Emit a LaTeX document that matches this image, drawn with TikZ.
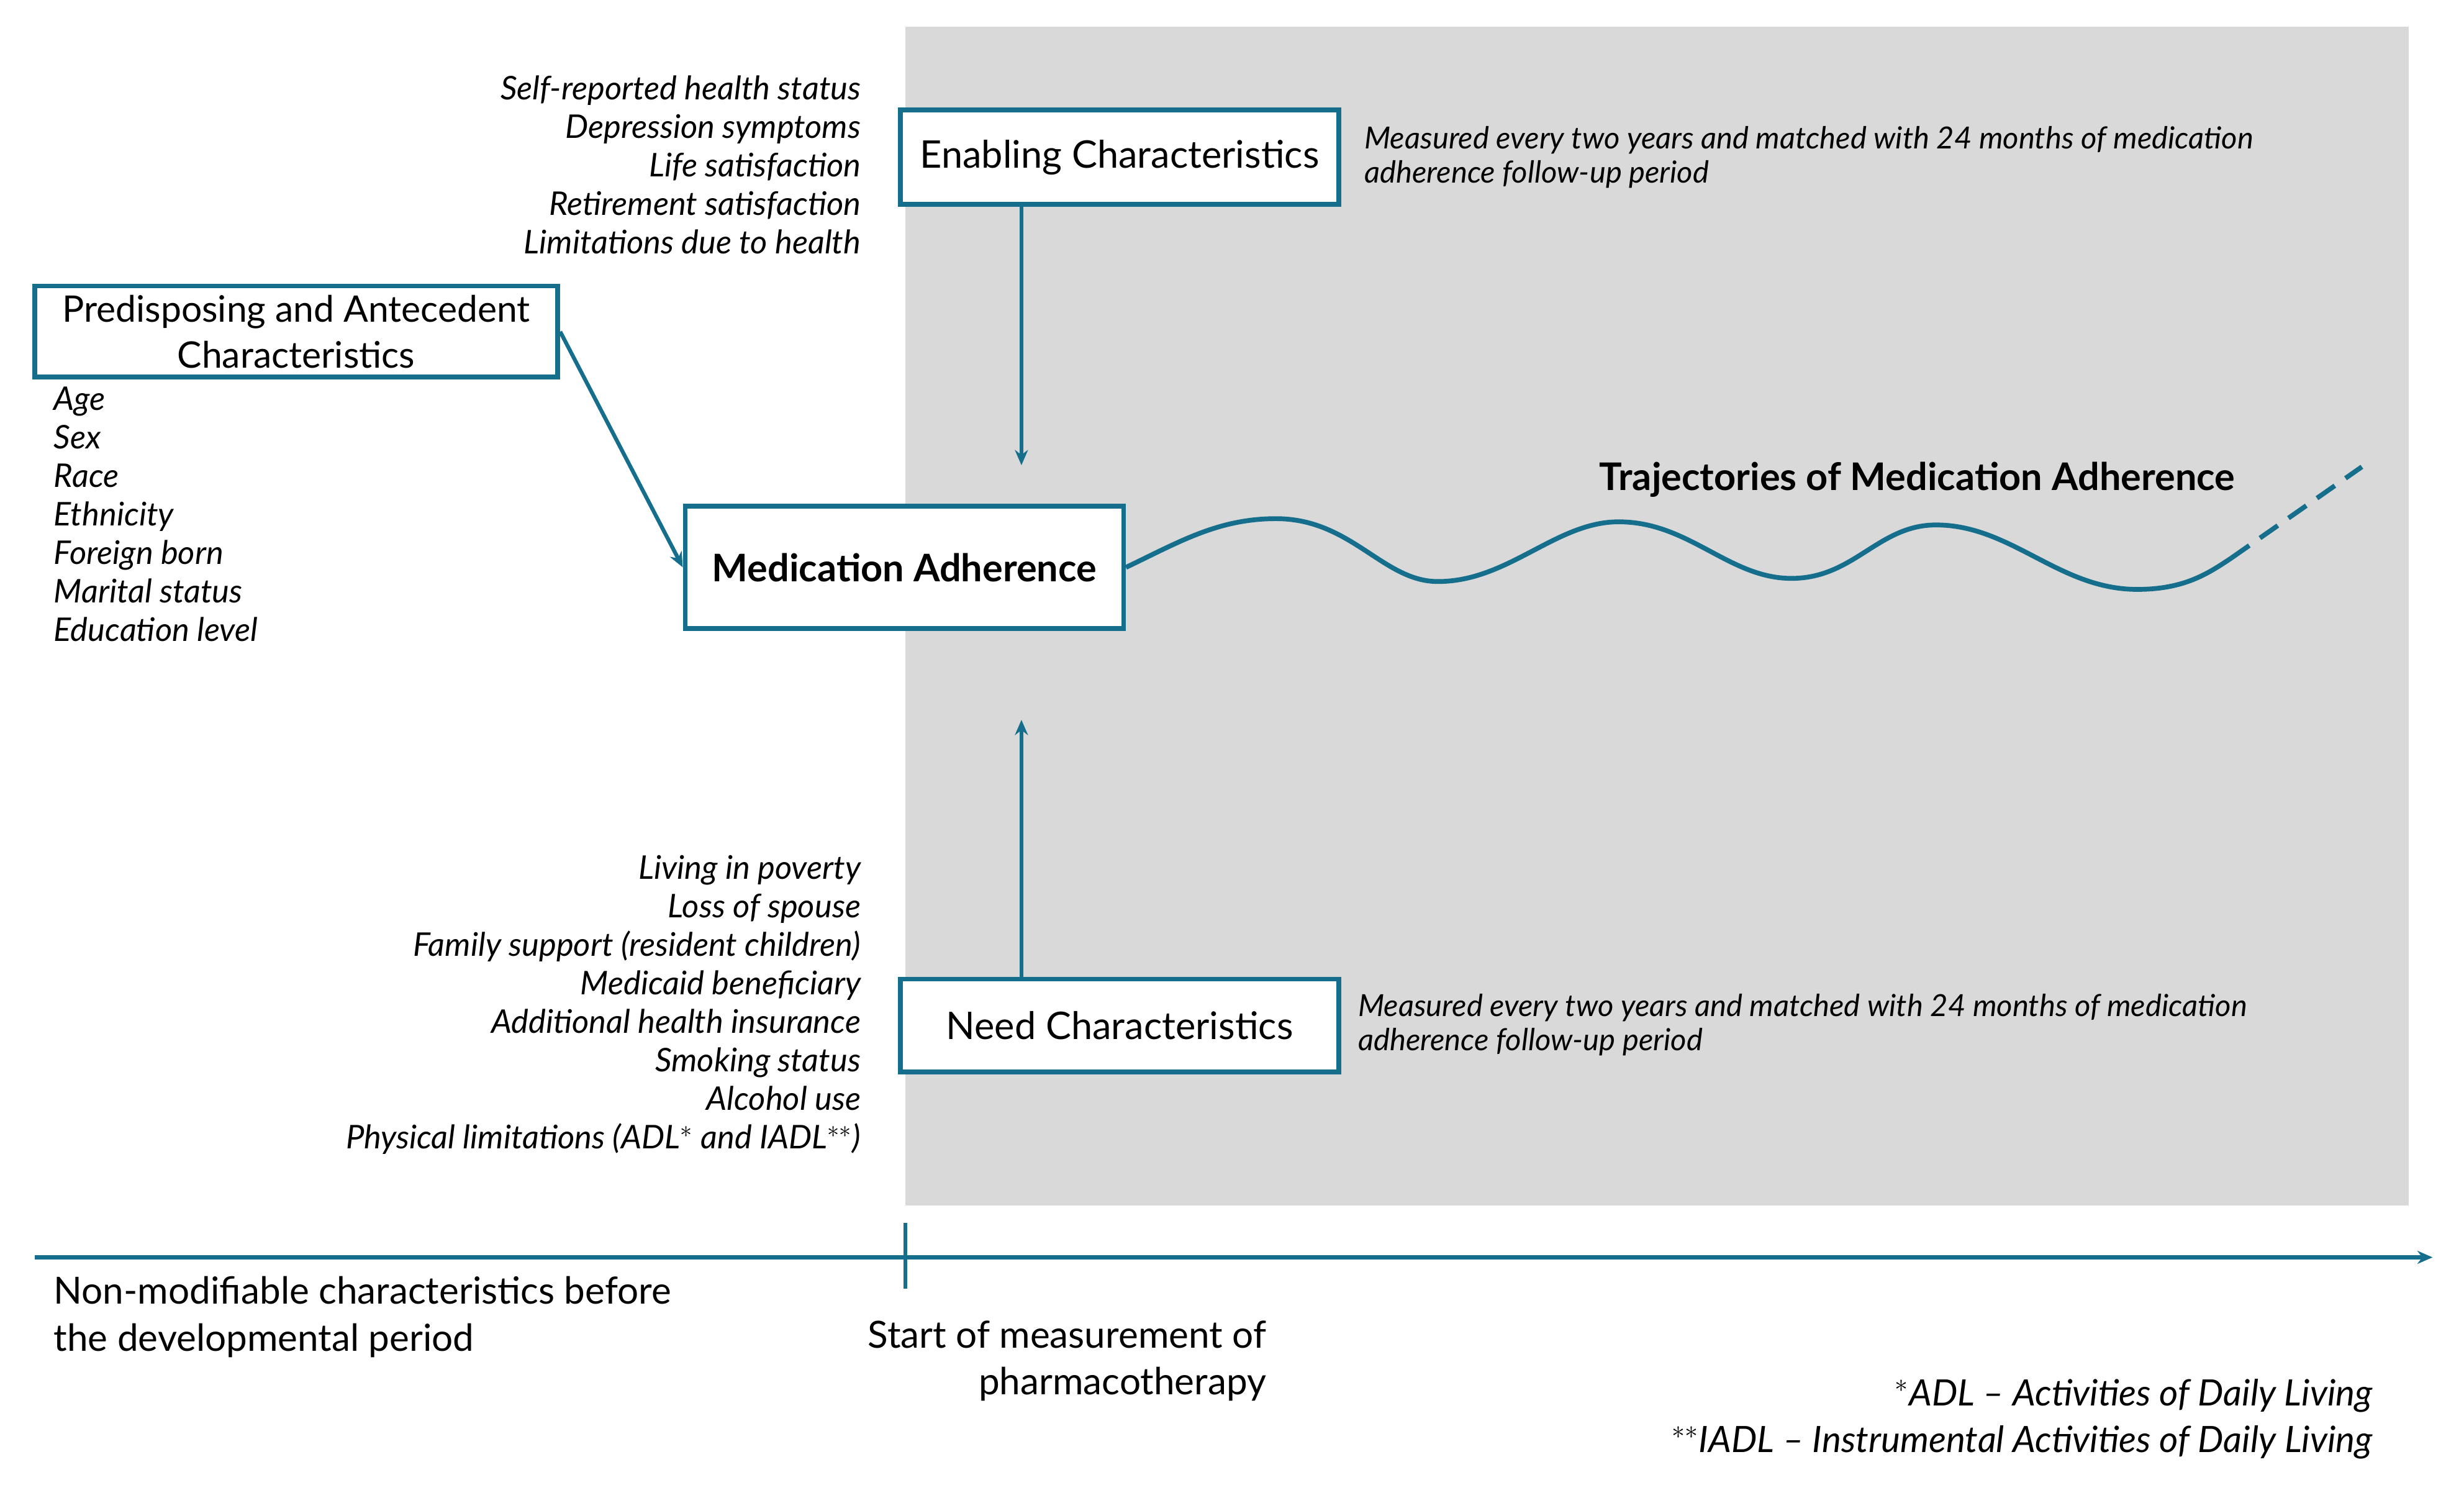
\documentclass[tikz,border=0pt]{standalone}
\usepackage{fontspec}
\setmainfont{Lato}
\usetikzlibrary{arrows.meta}
\definecolor{teal1}{RGB}{20,110,140}
\definecolor{gbg}{RGB}{217,217,217}
\begin{document}
\begin{tikzpicture}[x=0.0254cm,y=-0.0254cm,
 box/.style={draw=teal1,line width=2.2pt,fill=white,inner sep=0pt,font=\fontsize{17.5}{21.5}\selectfont,align=center},
 lst/.style={font=\fontsize{15}{17.7}\selectfont\itshape,inner sep=0pt},
 note/.style={font=\fontsize{14}{15.8}\selectfont\itshape,inner sep=0pt,align=left,anchor=west},
 arr/.style={teal1,line width=1.8pt,-{Stealth[length=7pt,width=6pt]}},
 plain/.style={font=\fontsize{17.2}{21.6}\selectfont,inner sep=0pt}]
\useasboundingbox (0,0) rectangle (1568,953);
\fill[gbg] (576,17) rectangle (1533,767);
\node[box,minimum width=7.087cm,minimum height=1.524cm] (en) at (712.5,100) {Enabling Characteristics};
\node[box,minimum width=8.458cm,minimum height=1.473cm,font=\fontsize{16.8}{21}\selectfont] (pre) at (188.5,211) {Predisposing and Antecedent\\Characteristics};
\node[box,minimum width=7.087cm,minimum height=1.981cm,font=\fontsize{17.5}{21.5}\selectfont\bfseries] (ma) at (575.5,361) {Medication Adherence};
\node[box,minimum width=7.087cm,minimum height=1.499cm] (need) at (712.5,652.5) {Need Characteristics};
\coordinate (ea) at (650,296);
\coordinate (na) at (650,458);
\draw[arr] (en.south -| ea) -- (ea);
\draw[arr] (need.north -| na) -- (na);
\draw[arr] (pre.east) -- (ma.west);
\draw[teal1,line width=2.2pt] (ma.east) .. controls (750,345) and (775,330) .. (812,330)
 .. controls (860,330) and (880,370) .. (915,370)
 .. controls (960,370) and (990,332) .. (1030,332)
 .. controls (1075,332) and (1100,368) .. (1140,368)
 .. controls (1180,368) and (1195,334) .. (1232,334)
 .. controls (1280,334) and (1310,375) .. (1360,375)
 .. controls (1390,375) and (1405,365) .. (1420,355) coordinate (w1);
\coordinate (w2) at (1503,297);
\draw[teal1,line width=2.2pt,dash pattern=on 10pt off 6pt] (w1) -- (w2);
\node[font=\fontsize{17.5}{21}\selectfont\bfseries] (tr) at (1220,305) {Trajectories of Medication Adherence};
\node[lst,align=right,anchor=north east] (l1) at (548,48) {Self-reported health status\\Depression symptoms\\Life satisfaction\\Retirement satisfaction\\Limitations due to health};
\node[lst,align=left,anchor=north west] (l2) at (34,246) {Age\\Sex\\Race\\Ethnicity\\Foreign born\\Marital status\\Education level};
\node[lst,align=right,anchor=north east] (l3) at (548,544) {Living in poverty\\Loss of spouse\\Family support (resident children)\\Medicaid beneficiary\\Additional health insurance\\Smoking status\\Alcohol use\\Physical limitations (ADL$^{*}$ and IADL$^{**}$)};
\node[note,anchor=north west] (n1) at (868,80) {Measured every two years and matched with 24 months of medication\\adherence follow-up period};
\node[note,anchor=north west] (n2) at (864,632) {Measured every two years and matched with 24 months of medication\\adherence follow-up period};
\coordinate (ax0) at (22,800);
\coordinate (ax1) at (1548,800);
\draw[teal1,line width=1.8pt,-{Stealth[length=7pt,width=6pt]}] (ax0) -- (ax1);
\coordinate (t0) at (576,778);
\coordinate (t1) at (576,820);
\draw[teal1,line width=1.8pt] (t0) -- (t1);
\node[plain,align=left,anchor=north west] (b1) at (34,812) {Non-modifiable characteristics before\\the developmental period};
\node[plain,align=right,anchor=north east] (b2) at (806,840) {Start of measurement of\\pharmacotherapy};
\node[lst,font=\fontsize{16.7}{21.6}\selectfont\itshape,align=right,anchor=north east] (fn) at (1510,877) {$^{*}$ADL – Activities of Daily Living\\$^{**}$IADL – Instrumental Activities of Daily Living};
\end{tikzpicture}
\end{document}
